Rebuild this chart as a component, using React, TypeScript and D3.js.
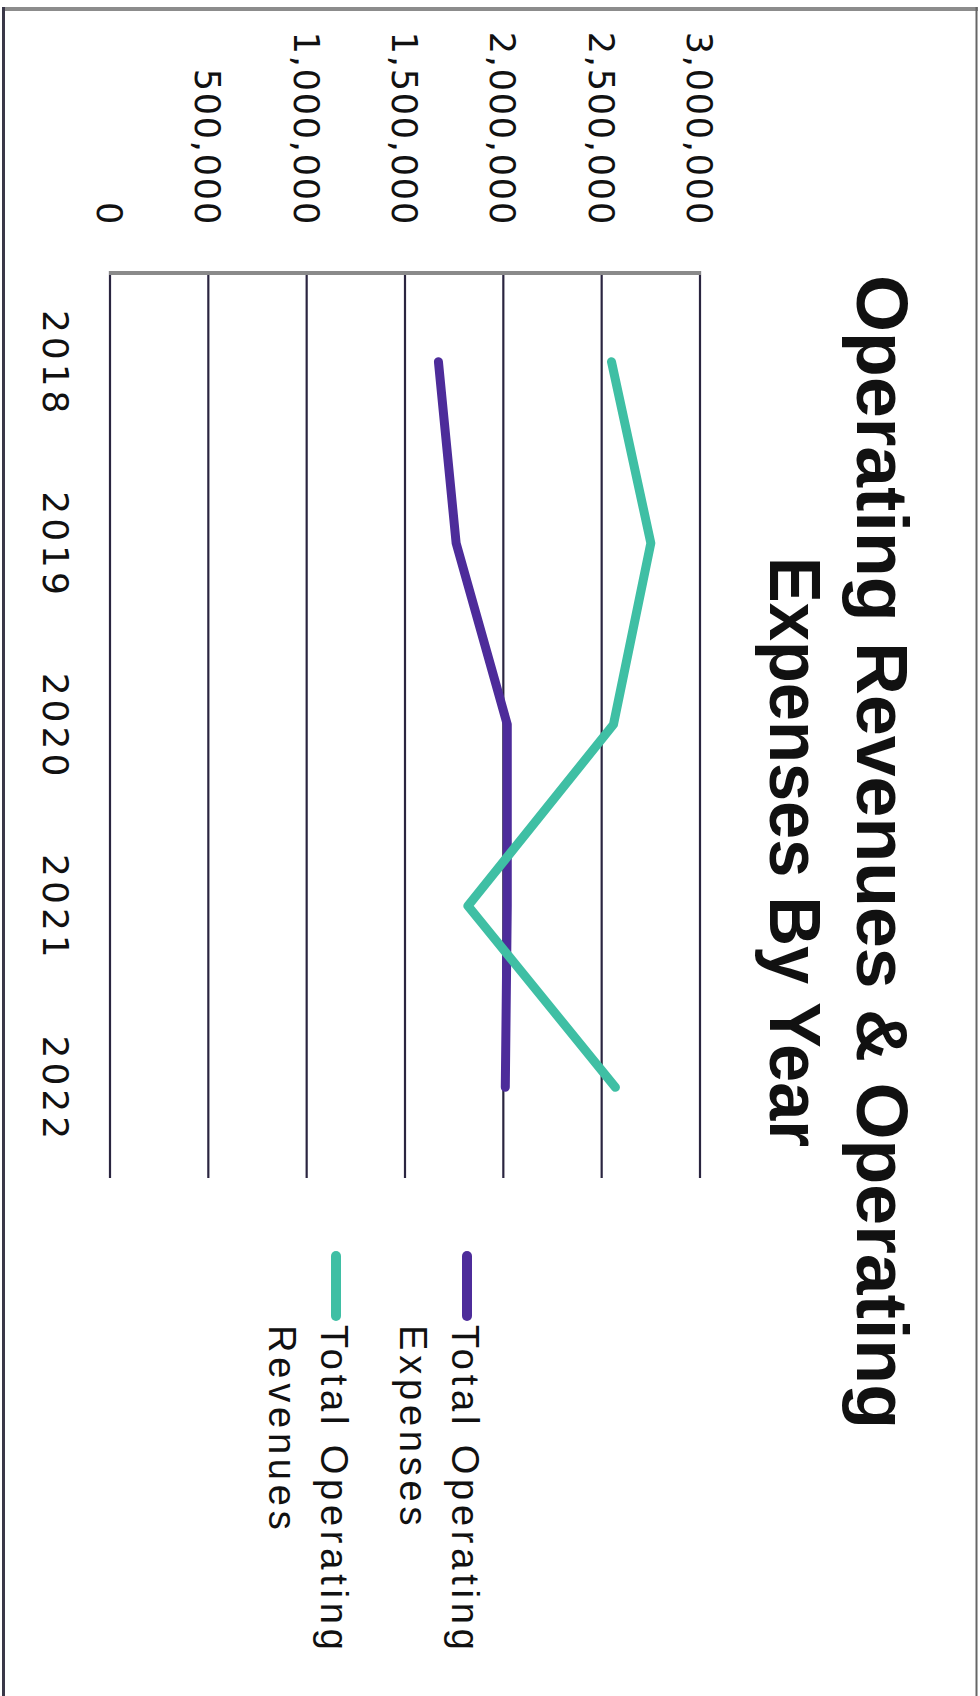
import React from "react";
import * as d3 from "d3";

const years = ["2018", "2019", "2020", "2021", "2022"];
const expenses = [1670000, 1760000, 2020000, 2020000, 2010000];
const revenues = [2550000, 2750000, 2560000, 1820000, 2570000];
const valueTicks = [0, 500000, 1000000, 1500000, 2000000, 2500000, 3000000];
const titleLines = ["Operating Revenues & Operating", "Expenses By Year"];
const titleLengths = [1154, 590];
const seriesNames = [
  ["Total Operating", "Expenses"],
  ["Total Operating", "Revenues"],
];

const W = 980;
const H = 1696;
const PURPLE = "#4d2c9a";
const TEAL = "#3fbfa4";

export default function App() {
  const x = d3.scaleLinear().domain([0, 3000000]).range([110, 700]);
  const y = d3.scalePoint<string>().domain(years).range([271, 1178]).padding(0.5);
  const line = d3
    .line<number>()
    .x((d) => x(d))
    .y((_, i) => y(years[i]) as number);
  const fmt = d3.format(",");

  const series = [
    { values: expenses, color: PURPLE, names: seriesNames[0], lx: 467 },
    { values: revenues, color: TEAL, names: seriesNames[1], lx: 336 },
  ];

  return (
    <svg
      width={W}
      height={H}
      style={{ position: "absolute", left: 0, top: 0, background: "#fff" }}
    >
      <rect x={0} y={0} width={W} height={H} fill="#fff" />
      {/* border */}
      <line x1={2} x2={978} y1={9} y2={9} stroke="#8c8c8c" strokeWidth={4} />
      <line x1={3.5} x2={3.5} y1={7} y2={H} stroke="#3a3848" strokeWidth={3} />
      <line x1={976.5} x2={976.5} y1={7} y2={H} stroke="#666" strokeWidth={2} />

      {/* gridlines */}
      {valueTicks.map((t) => (
        <line
          key={"g" + t}
          x1={x(t)}
          x2={x(t)}
          y1={271}
          y2={1178}
          stroke="#2a2540"
          strokeWidth={2.2}
        />
      ))}
      {/* category axis line */}
      <line x1={x(0) - 1} x2={x(3000000) + 1} y1={273} y2={273} stroke="#8a8a8a" strokeWidth={4} />

      {/* value tick labels */}
      {valueTicks.map((t) => (
        <text
          key={"t" + t}
          transform={`translate(${x(t) - 13},226) rotate(90)`}
          textAnchor="end"
          fontFamily="DejaVu Sans"
          fontSize={35}
          letterSpacing={1.8}
          fill="#111"
        >
          {fmt(t)}
        </text>
      ))}

      {/* year labels */}
      {years.map((yr) => (
        <text
          key={"y" + yr}
          transform={`translate(43,${(y(yr) as number) + 2}) rotate(90)`}
          textAnchor="middle"
          fontFamily="DejaVu Sans"
          fontSize={36}
          letterSpacing={4}
          fill="#111"
        >
          {yr}
        </text>
      ))}

      {/* data lines */}
      {series.map((s, i) => (
        <path
          key={"l" + i}
          d={line(s.values) || ""}
          fill="none"
          stroke={s.color}
          strokeWidth={9}
          strokeLinejoin="round"
          strokeLinecap="round"
        />
      ))}

      {/* title */}
      {titleLines.map((t, i) => (
        <text
          key={"title" + i}
          transform={`translate(${857 - i * 87},852) rotate(90)`}
          textAnchor="middle"
          fontFamily="Liberation Sans"
          fontWeight="bold"
          fontSize={73}
          textLength={titleLengths[i]}
          lengthAdjust="spacingAndGlyphs"
          fill="#111"
        >
          {t}
        </text>
      ))}

      {/* legend */}
      {series.map((s, i) => (
        <g key={"lg" + i}>
          <line
            x1={s.lx}
            x2={s.lx}
            y1={1256}
            y2={1316}
            stroke={s.color}
            strokeWidth={10}
            strokeLinecap="round"
          />
          {s.names.map((n, j) => (
            <text
              key={j}
              transform={`translate(${s.lx - 15 - j * 52},1325) rotate(90)`}
              fontFamily="Liberation Sans"
              fontSize={38}
              letterSpacing={4.8}
              fill="#111"
            >
              {n}
            </text>
          ))}
        </g>
      ))}
    </svg>
  );
}
